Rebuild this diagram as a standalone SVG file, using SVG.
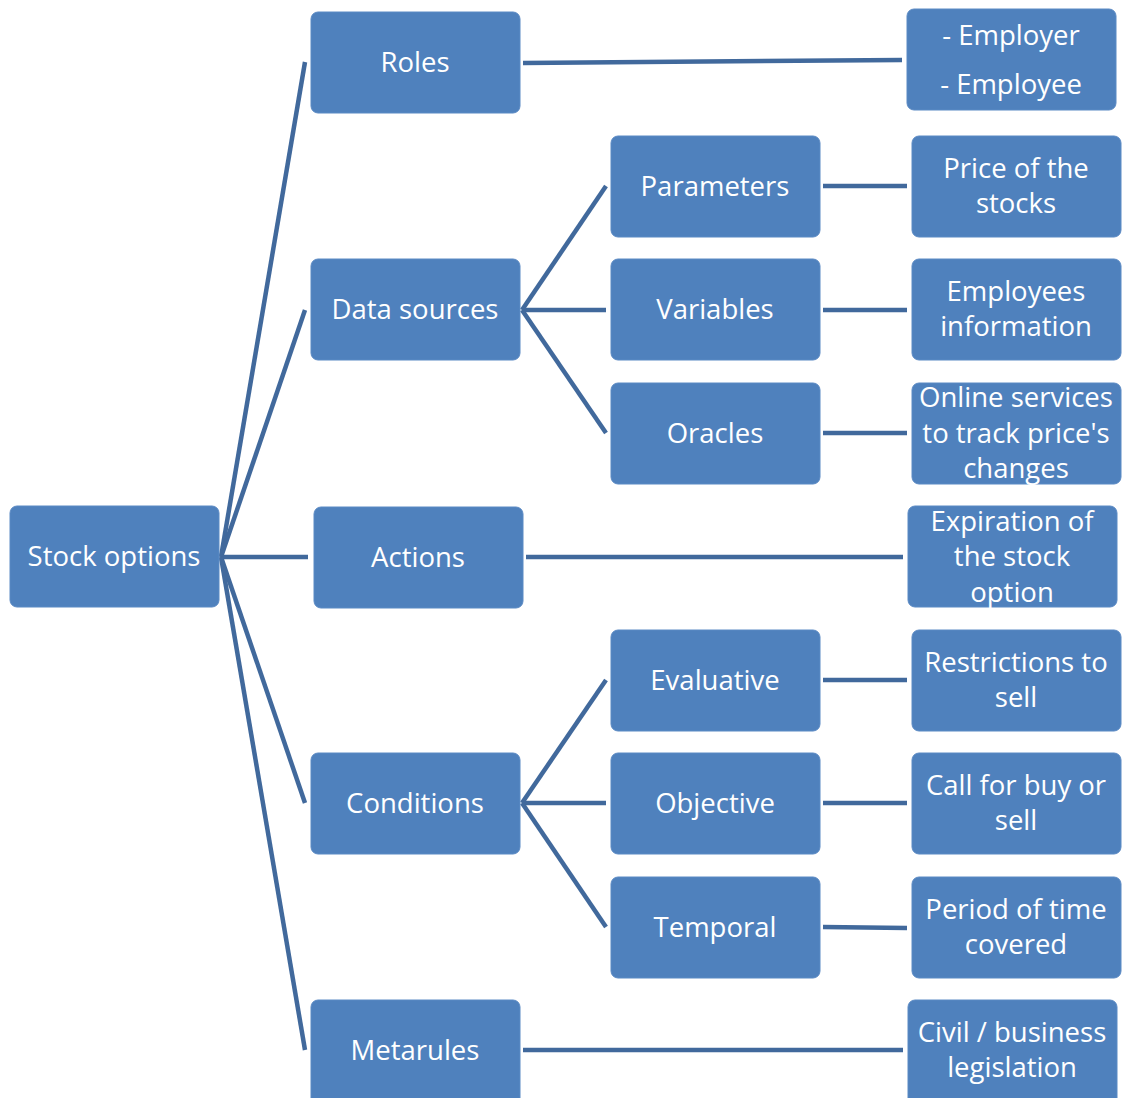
<svg xmlns="http://www.w3.org/2000/svg" width="1123" height="1098" viewBox="0 0 1123 1098">
<style>
.n rect{fill:#4F81BD;stroke:#5B8AC4;stroke-width:1}
.n text{fill:#FFFFFF;font-family:"Open Sans","Liberation Sans",sans-serif;font-size:27.5px;text-anchor:middle}
#connectors line{stroke:#41699C;stroke-width:4.5;stroke-linecap:butt}
</style>
<rect width="1123" height="1098" fill="#FFFFFF"/>
<g id="connectors">
<line x1="221" y1="557" x2="305" y2="62"/>
<line x1="221" y1="557" x2="305" y2="310"/>
<line x1="221" y1="557" x2="308" y2="557"/>
<line x1="221" y1="557" x2="305" y2="803"/>
<line x1="221" y1="557" x2="305" y2="1050"/>
<line x1="523" y1="63" x2="902" y2="60"/>
<line x1="522" y1="310" x2="606" y2="186"/>
<line x1="522" y1="310" x2="606" y2="310"/>
<line x1="522" y1="310" x2="606" y2="433"/>
<line x1="526" y1="557" x2="903" y2="557"/>
<line x1="522" y1="803" x2="606" y2="680"/>
<line x1="522" y1="803" x2="606" y2="803"/>
<line x1="522" y1="803" x2="606" y2="927"/>
<line x1="523" y1="1050" x2="903" y2="1050"/>
<line x1="823" y1="186" x2="907" y2="186"/>
<line x1="823" y1="310" x2="907" y2="310"/>
<line x1="823" y1="433" x2="907" y2="433"/>
<line x1="823" y1="680" x2="907" y2="680"/>
<line x1="823" y1="803" x2="907" y2="803"/>
<line x1="823" y1="927" x2="907" y2="928"/>
</g>
<g id="stock-options" class="n"><rect x="10" y="506" width="209" height="101" rx="7"/><text x="114" y="566">Stock options</text></g>
<g id="roles" class="n"><rect x="311" y="12" width="209" height="101" rx="7"/><text x="415" y="72">Roles</text></g>
<g id="data-sources" class="n"><rect x="311" y="259" width="209" height="101" rx="7"/><text x="415" y="319">Data sources</text></g>
<g id="actions" class="n"><rect x="314" y="507" width="209" height="101" rx="7"/><text x="418" y="567">Actions</text></g>
<g id="conditions" class="n"><rect x="311" y="753" width="209" height="101" rx="7"/><text x="415" y="813">Conditions</text></g>
<g id="metarules" class="n"><rect x="311" y="1000" width="209" height="106" rx="7"/><text x="415" y="1060">Metarules</text></g>
<g id="parameters" class="n"><rect x="611" y="136" width="209" height="101" rx="7"/><text x="715" y="196">Parameters</text></g>
<g id="variables" class="n"><rect x="611" y="259" width="209" height="101" rx="7"/><text x="715" y="319">Variables</text></g>
<g id="oracles" class="n"><rect x="611" y="383" width="209" height="101" rx="7"/><text x="715" y="443">Oracles</text></g>
<g id="evaluative" class="n"><rect x="611" y="630" width="209" height="101" rx="7"/><text x="715" y="690">Evaluative</text></g>
<g id="objective" class="n"><rect x="611" y="753" width="209" height="101" rx="7"/><text x="715" y="813">Objective</text></g>
<g id="temporal" class="n"><rect x="611" y="877" width="209" height="101" rx="7"/><text x="715" y="937">Temporal</text></g>
<g id="employer-employee" class="n"><rect x="907" y="9" width="209" height="101" rx="7"/><text x="1011" y="45">- Employer</text><text x="1011" y="94">- Employee</text></g>
<g id="price" class="n"><rect x="912" y="136" width="209" height="101" rx="7"/><text x="1016" y="178">Price of the</text><text x="1016" y="213">stocks</text></g>
<g id="employees-info" class="n"><rect x="912" y="259" width="209" height="101" rx="7"/><text x="1016" y="301">Employees</text><text x="1016" y="336">information</text></g>
<g id="online-services" class="n"><rect x="912" y="383" width="209" height="101" rx="7"/><text x="1016" y="407">Online services</text><text x="1016" y="443">to track price's</text><text x="1016" y="478">changes</text></g>
<g id="expiration" class="n"><rect x="908" y="506" width="209" height="101" rx="7"/><text x="1012" y="531">Expiration of</text><text x="1012" y="566">the stock</text><text x="1012" y="602">option</text></g>
<g id="restrictions" class="n"><rect x="912" y="630" width="209" height="101" rx="7"/><text x="1016" y="672">Restrictions to</text><text x="1016" y="707">sell</text></g>
<g id="call" class="n"><rect x="912" y="753" width="209" height="101" rx="7"/><text x="1016" y="795">Call for buy or</text><text x="1016" y="830">sell</text></g>
<g id="period" class="n"><rect x="912" y="877" width="209" height="101" rx="7"/><text x="1016" y="919">Period of time</text><text x="1016" y="954">covered</text></g>
<g id="civil" class="n"><rect x="908" y="1000" width="209" height="106" rx="7"/><text x="1012" y="1042">Civil / business</text><text x="1012" y="1077">legislation</text></g>
</svg>
